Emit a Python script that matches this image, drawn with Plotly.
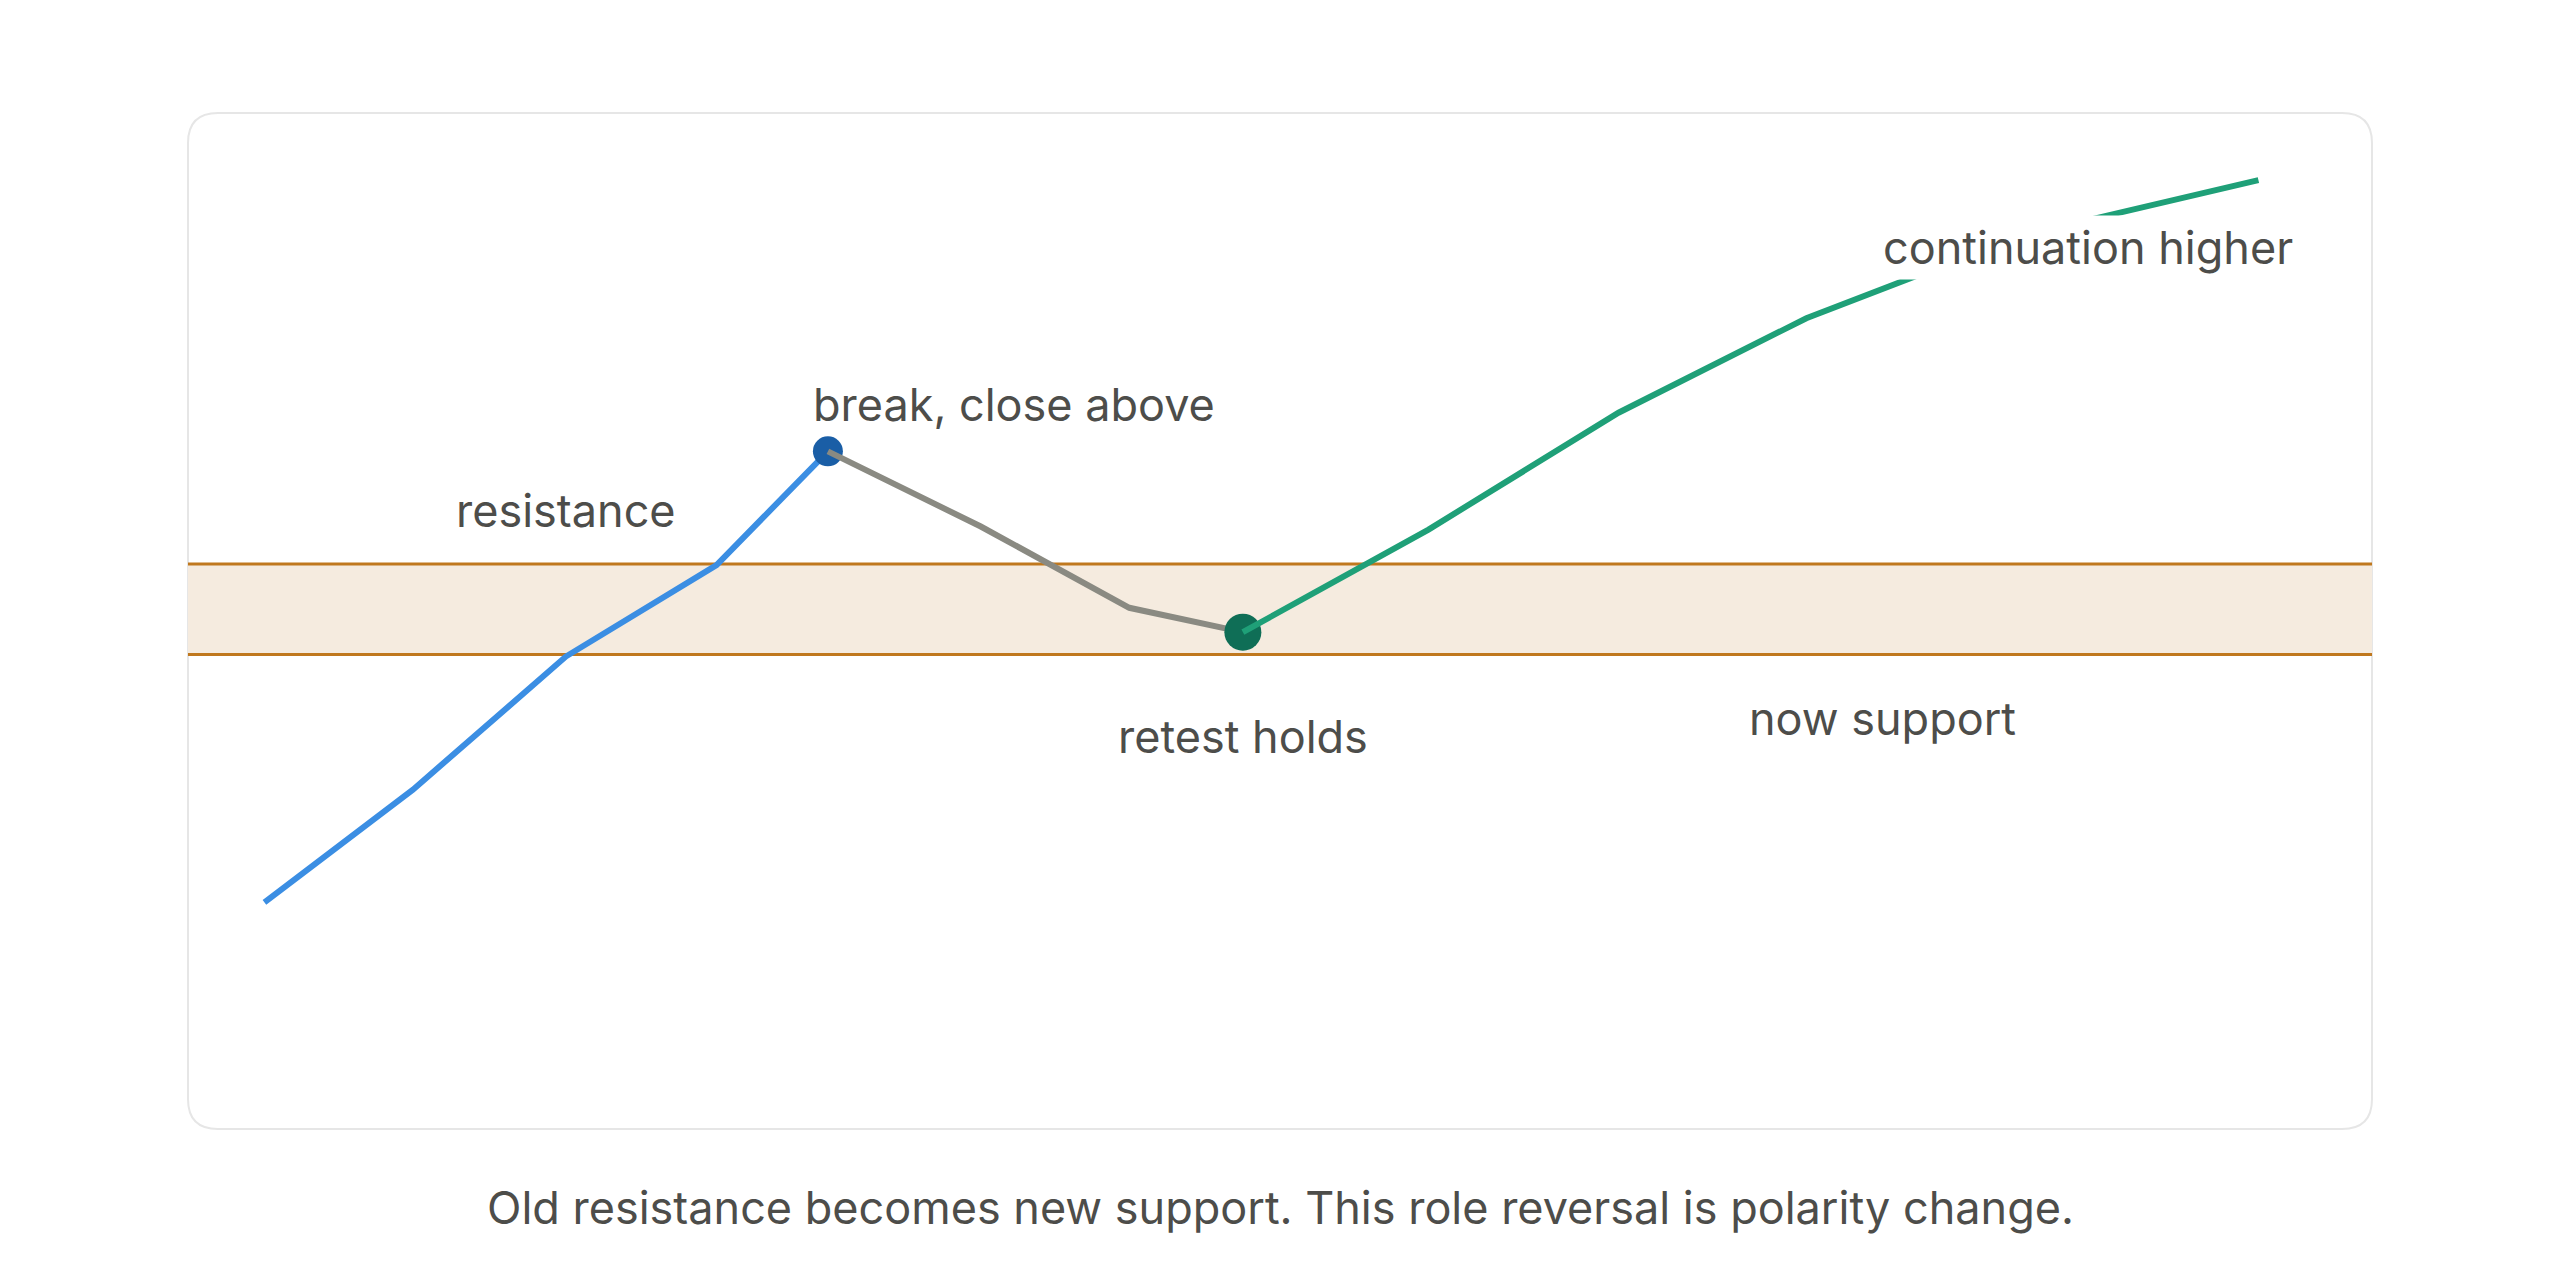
import plotly.graph_objects as go

# ---- data (x: session position 0-100, y: price level 0-100) ----
breakout_x = [3.5, 10.3, 17.3, 24.2, 29.3]
breakout_y = [22.3, 33.4, 46.5, 55.5, 66.7]

pullback_x = [29.3, 36.3, 43.1, 48.3]
pullback_y = [66.7, 59.3, 51.3, 48.9]

continuation_x = [48.3, 56.8, 65.5, 74.1, 83.9, 94.8]
continuation_y = [48.9, 59.0, 70.5, 79.8, 87.9, 93.4]

zone_low = 46.7
zone_high = 55.6

break_point = (29.3, 66.7)
retest_point = (48.3, 48.9)

label_text = ["resistance", "break, close above", "retest holds", "now support", "continuation higher"]
label_x = [17.3, 28.4, 48.3, 77.6, 87.0]
label_y = [60.9, 71.3, 38.6, 40.4, 86.8]
label_anchor = ["center", "left", "center", "center", "center"]
label_bg = ["rgba(0,0,0,0)", "rgba(0,0,0,0)", "rgba(0,0,0,0)", "rgba(0,0,0,0)", "white"]

caption = "Old resistance becomes new support. This role reversal is polarity change."

# ---- styling ----
# the page body adds an 8px offset, so the figure is 8px smaller
W, H = 2552, 1272
ML, MR, MT, MB = 180, 188, 105, 151
FONT = "Inter, 'Noto Sans', sans-serif"
FS = 45
TEXT = "#4d4d4a"
BLUE = "#3b8ee3"
BLUE_DARK = "#1a5ea6"
GREY = "#8a8a82"
GREEN = "#1fa078"
GREEN_DARK = "#0f6e56"
ZONE_FILL = "#f5ebdf"
ZONE_LINE = "#c0781e"
LW = 6

fig = go.Figure()

fig.add_trace(go.Scatter(x=breakout_x, y=breakout_y, mode="lines",
                         line=dict(color=BLUE, width=LW), hoverinfo="skip"))
fig.add_trace(go.Scatter(x=[break_point[0]], y=[break_point[1]], mode="markers",
                         marker=dict(color=BLUE_DARK, size=30, line=dict(width=0)), hoverinfo="skip"))
fig.add_trace(go.Scatter(x=pullback_x, y=pullback_y, mode="lines",
                         line=dict(color=GREY, width=LW), hoverinfo="skip"))
fig.add_trace(go.Scatter(x=[retest_point[0]], y=[retest_point[1]], mode="markers",
                         marker=dict(color=GREEN_DARK, size=37, line=dict(width=0)), hoverinfo="skip"))
fig.add_trace(go.Scatter(x=continuation_x, y=continuation_y, mode="lines",
                         line=dict(color=GREEN, width=LW), hoverinfo="skip"))

# card (rounded rectangle in paper coords)
rx = 30 / (W - ML - MR)
ry = 30 / (H - MT - MB)
x0, x1, y0, y1 = 0, 1, 0, 1
card_path = (f"M {x0+rx},{y0} L {x1-rx},{y0} Q {x1},{y0} {x1},{y0+ry} "
             f"L {x1},{y1-ry} Q {x1},{y1} {x1-rx},{y1} L {x0+rx},{y1} "
             f"Q {x0},{y1} {x0},{y1-ry} L {x0},{y0+ry} Q {x0},{y0} {x0+rx},{y0} Z")

shapes = [
    dict(type="path", path=card_path, xref="paper", yref="paper",
         fillcolor="white", line=dict(color="#e6e6e6", width=2), layer="below"),
    dict(type="rect", xref="paper", yref="y", x0=0, x1=1, y0=zone_low, y1=zone_high,
         fillcolor=ZONE_FILL, line=dict(width=0), layer="below"),
    dict(type="line", xref="paper", yref="y", x0=0, x1=1, y0=zone_high, y1=zone_high,
         line=dict(color=ZONE_LINE, width=3), layer="below"),
    dict(type="line", xref="paper", yref="y", x0=0, x1=1, y0=zone_low, y1=zone_low,
         line=dict(color=ZONE_LINE, width=3), layer="below"),
]

annotations = []
for t, x, y, a, bg in zip(label_text, label_x, label_y, label_anchor, label_bg):
    annotations.append(dict(text=t, x=x, y=y, xref="x", yref="y", xanchor=a, yanchor="middle",
                            showarrow=False, bgcolor=bg, borderpad=4,
                            font=dict(family=FONT, size=FS, color=TEXT)))
annotations.append(dict(text=caption, x=0.5, y=-0.077, xref="paper", yref="paper",
                        xanchor="center", yanchor="middle", showarrow=False,
                        font=dict(family=FONT, size=FS, color=TEXT)))

fig.update_layout(
    width=W, height=H,
    margin=dict(l=ML, r=MR, t=MT, b=MB),
    paper_bgcolor="white", plot_bgcolor="rgba(0,0,0,0)",
    showlegend=False,
    shapes=shapes, annotations=annotations,
    xaxis=dict(range=[0, 100], visible=False, showgrid=False, zeroline=False, fixedrange=True),
    yaxis=dict(range=[0, 100], visible=False, showgrid=False, zeroline=False, fixedrange=True),
)

fig.write_html("out.html", config={"displayModeBar": False})
